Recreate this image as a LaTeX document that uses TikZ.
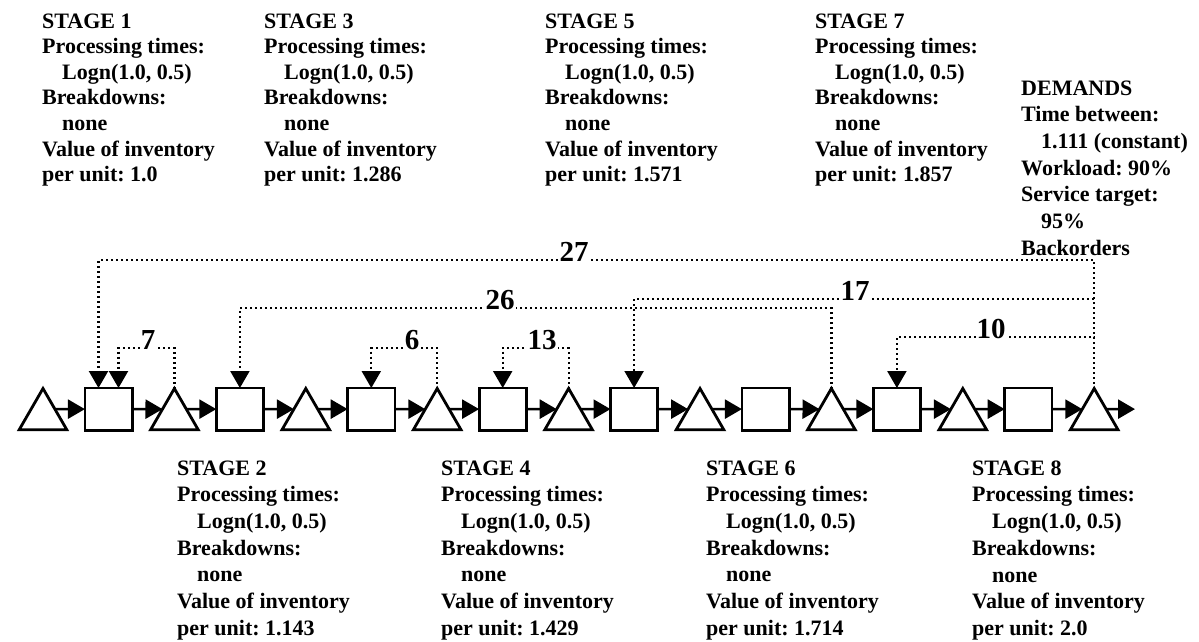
\documentclass[tikz,border=0pt]{standalone}
\usepackage{fontspec}
\setmainfont{Liberation Serif}
\usetikzlibrary{arrows.meta,shapes.geometric,calc}
\frenchspacing
\tikzset{
  buf/.style={draw,regular polygon,regular polygon sides=3,minimum size=55pt,inner sep=0pt,outer sep=0pt,line width=2.8pt,fill=white},
  stn/.style={draw,rectangle,minimum width=47.2pt,minimum height=42.2pt,inner sep=0pt,outer sep=0pt,line width=2.8pt,fill=white},
  flow/.style={-{Triangle[length=17pt,width=19pt]},line width=2.6pt},
  kan/.style={-{Triangle[length=17pt,width=19pt]},line width=2.2pt,dash pattern=on 2pt off 3pt},
  info/.style={anchor=north west,align=left,inner sep=0pt,font=\fontsize{22}{26.7}\selectfont\bfseries},
  infotop/.style={info,font=\fontsize{22}{25.6}\selectfont\bfseries},
  num/.style={anchor=base,fill=white,inner sep=1pt,font=\fontsize{29}{29}\selectfont\bfseries},
}
\begin{document}
\begin{tikzpicture}[x=1pt,y=-1pt]
  \useasboundingbox (0,0) rectangle (1199,641);
  % buffers and stations
  \foreach \k in {0,...,8} { \node[buf,anchor=corner 1] (t\k) at ({43+131.4*\k},388.5) {}; }
  \foreach \k in {1,...,8} { \node[stn] (s\k) at ({108.5+131.4*(\k-1)},409.1) {}; }
  \foreach \k [remember=\k as \p (initially 0)] in {1,...,8} {
    \draw[flow] ($(t\p.corner 1)!0.5!(t\p.corner 3)$) -- (s\k.west);
    \draw[flow] (s\k.east) -- ($(t\k.corner 1)!0.5!(t\k.corner 2)$);
  }
  \coordinate (out) at (1135,409.1);
  \draw[flow] ($(t8.corner 1)!0.5!(t8.corner 3)$) -- (out);
  % kanban loops
  \draw[kan] (t8.corner 1) -- (t8.corner 1 |- 0,260) -| ([xshift=-10pt]s1.north);
  \draw[kan] (t8.corner 1) -- (t8.corner 1 |- 0,299) -| (s5.north);
  \draw[kan] (t8.corner 1) -- (t8.corner 1 |- 0,337) -| (s7.north);
  \draw[kan] (t6.corner 1) -- (t6.corner 1 |- 0,308) -| (s2.north);
  \draw[kan] (t1.corner 1) -- (t1.corner 1 |- 0,348) -| ([xshift=10pt]s1.north);
  \draw[kan] (t3.corner 1) -- (t3.corner 1 |- 0,348) -| (s3.north);
  \draw[kan] (t4.corner 1) -- (t4.corner 1 |- 0,348) -| (s4.north);
  \node[num] (n27) at (574,261) {27};
  \node[num] (n26) at (500,309) {26};
  \node[num] (n17) at (855,300) {17};
  \node[num] (n10) at (991,338) {10};
  \node[num] (n7) at (148,349) {7};
  \node[num] (n6) at (412,349) {6};
  \node[num] (n13) at (542,349) {13};
  % stage data
  \foreach \k/\v/\x in {1/1.0/42, 3/1.286/264, 5/1.571/545, 7/1.857/815} {
    \node[infotop] (st\k) at (\x,13.4) {STAGE \k\\Processing times:\\\hspace*{20pt}Logn(1.0, 0.5)\\Breakdowns:\\\hspace*{20pt}none\\Value of inventory\\per unit: \v};
  }
  \foreach \k/\v/\x in {2/1.143/177, 4/1.429/441, 6/1.714/706, 8/2.0/972} {
    \node[info] (st\k) at (\x,460.4) {STAGE \k\\Processing times:\\\hspace*{20pt}Logn(1.0, 0.5)\\Breakdowns:\\\hspace*{20pt}none\\Value of inventory\\per unit: \v};
  }
  \node[info] (dem) at (1021,80.4) {DEMANDS\\Time between:\\\hspace*{20pt}1.111 (constant)\\Workload: 90\%\\Service target:\\\hspace*{20pt}95\%\\Backorders};
\end{tikzpicture}
\end{document}
